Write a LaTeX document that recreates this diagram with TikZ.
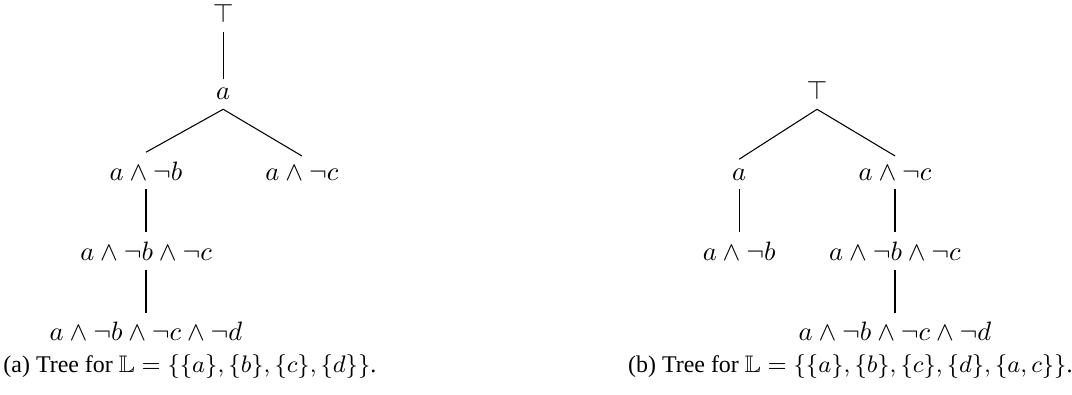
\documentclass[tikz,border=0pt]{standalone}
\usepackage{amssymb}
\usepackage{fontspec}
\setmainfont{Liberation Serif}

\begin{document}
\begin{tikzpicture}[every node/.style={anchor=base}]
  \useasboundingbox (0,0) rectangle (14.17,-5.21);

  % tree (a)
  \node (Ta) at (2.95,-0.30) {$\top$};
  \node (Aa) at (2.95,-1.32) {$a$};
  \node (ABa) at (1.93,-2.38) {$a \wedge \neg b$};
  \node (ACa) at (3.99,-2.38) {$a \wedge \neg c$};
  \node (ABCa) at (1.93,-3.44) {$a \wedge \neg b \wedge \neg c$};
  \node (ABCDa) at (1.93,-4.50) {$a \wedge \neg b \wedge \neg c \wedge \neg d$};

  \draw (Ta.south) -- (Aa.north);
  \draw (Aa.south) -- (ABa.north);
  \draw (Aa.south) -- (ACa.north);
  \draw (ABa.south) -- (ABCa.north);
  \draw (ABCa.south) -- (ABCDa.north);

  \node[font=\small] (capa) at (2.51,-4.92) {(a) Tree for $\mathbb{L} = \{\{a\}, \{b\}, \{c\}, \{d\}\}$.};

  % tree (b)
  \node (Tb) at (10.80,-1.32) {$\top$};
  \node (Ab) at (9.77,-2.38) {$a$};
  \node (ACb) at (11.83,-2.38) {$a \wedge \neg c$};
  \node (ABb) at (9.77,-3.44) {$a \wedge \neg b$};
  \node (ABCb) at (11.83,-3.44) {$a \wedge \neg b \wedge \neg c$};
  \node (ABCDb) at (11.83,-4.50) {$a \wedge \neg b \wedge \neg c \wedge \neg d$};

  \draw (Tb.south) -- (Ab.north);
  \draw (Tb.south) -- (ACb.north);
  \draw (Ab.south) -- (ABb.north);
  \draw (ACb.south) -- (ABCb.north);
  \draw (ABCb.south) -- (ABCDb.north);

  \node[font=\small] (capb) at (11.24,-4.92) {(b) Tree for $\mathbb{L} = \{\{a\}, \{b\}, \{c\}, \{d\}, \{a, c\}\}$.};
\end{tikzpicture}
\end{document}
